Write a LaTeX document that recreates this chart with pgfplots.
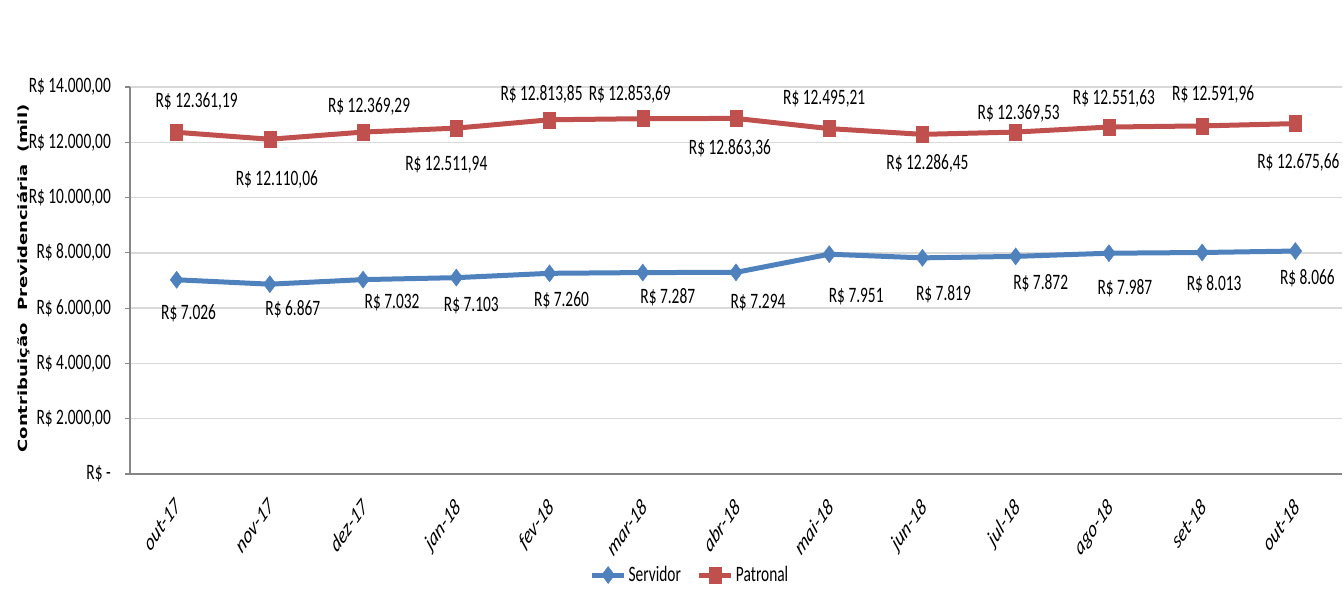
\documentclass[border=0pt]{standalone}
\usepackage{fontspec}
\setmainfont[FakeStretch=0.70]{Carlito}
\newfontfamily\xfont{Carlito}
\newfontfamily\yfont{DejaVu Sans}
\usepackage{pgfplots}
\usepackage{pgfplotstable}
\pgfplotsset{compat=1.18}
\definecolor{serv}{HTML}{4F81BD}
\definecolor{patr}{HTML}{C0504D}
\definecolor{gridc}{HTML}{D9D9D9}
\definecolor{axc}{HTML}{868686}

\pgfplotstableread{
x y dx dy
0 12361.19 20 31
1 12110.06 7 -40
2 12369.29 6 26
3 12511.94 -10 -37
4 12813.85 -8 25
5 12853.69 -13 24
6 12863.36 -6 -30
7 12495.21 -5 30
8 12286.45 5 -29
9 12369.53 3 19
10 12551.63 5 29
11 12591.96 11 31
12 12675.66 3 -39
}\patronal

\pgfplotstableread{
x y dx dy
0 7026 12 -34
1 6867 23 -25
2 7032 29 -23
3 7103 15 -28
4 7260 12 -27
5 7287 25 -25
6 7294 22 -30
7 7951 27 -42
8 7819 21 -36
9 7872 25 -27
10 7987 16 -35
11 8013 12 -32
12 8066 12 -27
}\servidor

\begin{document}
\fontsize{22}{26}\selectfont
\begin{tikzpicture}
\path[use as bounding box] (-130pt,-132pt) rectangle (1214pt,474pt);
\begin{axis}[
  at={(0,0)}, anchor=south west,
  scale only axis,
  width=1212pt, height=387pt,
  xmin=-0.5, xmax=12.5,
  ymin=0, ymax=14000,
  scaled y ticks=false,
  ytick={0,2000,...,14000},
  yticklabels={R\$ -\hspace{9pt},R\$ 2.000{,}00,R\$ 4.000{,}00,R\$ 6.000{,}00,R\$ 8.000{,}00,R\$ 10.000{,}00,R\$ 12.000{,}00,R\$ 14.000{,}00},
  xtick={0,...,12},
  xticklabels={out-17,nov-17,dez-17,jan-18,fev-18,mar-18,abr-18,mai-18,jun-18,jul-18,ago-18,set-18,out-18},
  xticklabel style={font=\fontsize{23.5}{27}\xfont\itshape, anchor=north east, inner sep=0pt, xshift=-3pt, yshift=-18pt, xscale=0.7, rotate=45},
  yticklabel style={font=\fontsize{22}{26}\selectfont, anchor=east, inner sep=0pt, xshift=-14pt},
  xtick style={draw=none},
  ytick style={draw=axc, line width=1.2pt},
  tick align=outside,
  major tick length=5pt,
  ymajorgrids,
  grid style={draw=gridc, line width=1.5pt},
  axis x line*=bottom,
  axis y line*=left,
  axis line style={draw=axc, line width=1.8pt, -},
  ylabel={\yfont\bfseries Contribuição\ \ Previdenciária\ \ (mil)},
  ylabel style={font=\fontsize{18}{22}\selectfont, at={(axis description cs:0,0.505)}, anchor=center, yshift=106pt, yscale=0.7},
  clip=false,
  legend style={at={(axis description cs:0.462,-0.261)}, anchor=center, draw=none, fill=none, font=\fontsize{22}{26}\selectfont, legend columns=2, /tikz/every even column/.append style={column sep=14pt}},
  legend cell align=left,
  legend image code/.code={\draw[#1, mark repeat=2, mark phase=2] plot coordinates {(0pt,0pt) (16pt,0pt) (32pt,0pt)};},
  every node near coord/.append style={font=\fontsize{22}{26}\selectfont, anchor=center, inner sep=0pt, text=black},
  visualization depends on={\thisrow{dx} \as \dx},
  visualization depends on={\thisrow{dy} \as \dy},
]
\addplot[serv, line width=5pt, mark=diamond*, mark size=8.5pt, mark options={solid, fill=serv, draw=serv, line width=0.5pt},
  point meta=y,
  nodes near coords={R\$ \pgfmathprintnumber[fixed, precision=0, use comma, 1000 sep={.}, assume math mode=true]{\pgfplotspointmeta}},
  nodes near coords style={xshift=\dx, yshift=\dy}]
  table[x=x, y=y] {\servidor};
\addlegendentry{Servidor}
\addplot[patr, line width=5pt, mark=square*, mark size=8pt, mark options={solid, fill=patr, draw=patr, line width=0.5pt, xscale=0.75},
  point meta=y,
  nodes near coords={R\$ \pgfmathprintnumber[fixed, fixed zerofill, precision=2, use comma, 1000 sep={.}, assume math mode=true]{\pgfplotspointmeta}},
  nodes near coords style={xshift=\dx, yshift=\dy}]
  table[x=x, y=y] {\patronal};
\addlegendentry{Patronal}
\end{axis}
\end{tikzpicture}
\end{document}
